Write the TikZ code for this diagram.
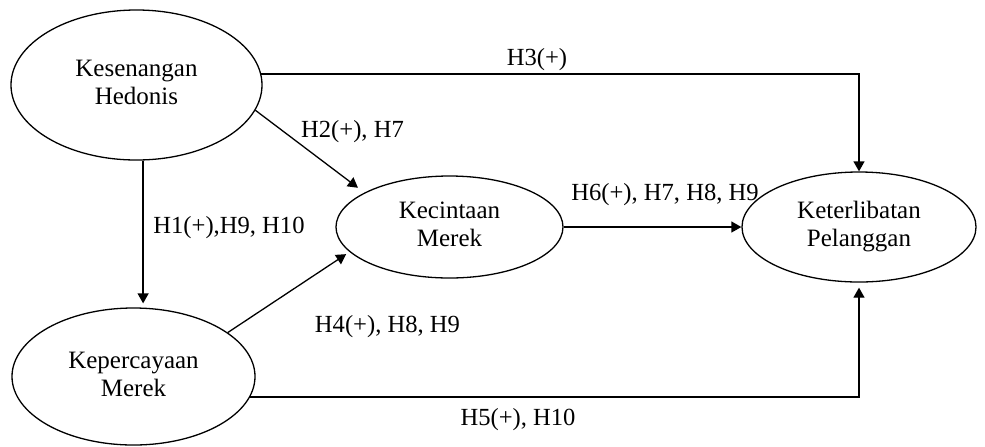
\documentclass[tikz,border=0pt]{standalone}
\usepackage{fontspec}
\setmainfont{Liberation Serif}
\usetikzlibrary{shapes.geometric,arrows.meta}
\newcommand{\twolines}[3]{\raisebox{#1}{\begin{tabular}{@{}c@{}}#2\\#3\end{tabular}}}
\begin{document}
\begin{tikzpicture}[x=0.5pt,y=-0.5pt,
  construct/.style={draw, ellipse, line width=0.65pt, inner sep=0pt,
    font=\fontsize{12.5}{14}\selectfont},
  link/.style={draw, line width=0.65pt, -{Triangle[length=5pt,width=5.5pt]}},
  hyp/.style={font=\fontsize{12.3}{14}\selectfont, inner sep=0pt}]
\useasboundingbox (0,0) rectangle (985,446);

% constructs
\node[construct, minimum width=125.5pt, minimum height=75pt]   (KH) at (136.5,85)   {\twolines{3pt}{Kesenangan}{Hedonis}};
\node[construct, minimum width=121.5pt, minimum height=68.5pt] (KM) at (133.5,376.5) {\twolines{2pt}{Kepercayaan}{Merek}};
\node[construct, minimum width=113.5pt, minimum height=51pt]   (CM) at (449.5,227)  {\twolines{0pt}{Kecintaan}{Merek}};
\node[construct, minimum width=117pt, minimum height=55pt]     (KP) at (859,227)    {\twolines{0pt}{Keterlibatan}{Pelanggan}};

% paths
\draw[link] (KH.5.5) -| (KP.north);
\draw[link, shorten >=2pt] (KH.-85) -- (KH.-85 |- KM.north);
\draw[link, shorten >=4pt] (KH.-12.7) -- (CM.158);
\draw[link, shorten >=2pt] (KM.25.9) -- (CM.194);
\draw[link] (CM.east) -- (KP.west);
\draw[link, shorten >=2.5pt] (KM.-10.5) -| (KP.south);

% hypothesis labels
\node[hyp] (h3) at (537,60)    {H3(+)};
\node[hyp] (h2) at (352.5,132) {H2(+), H7};
\node[hyp] (h1) at (229,228)   {H1(+),H9, H10};
\node[hyp] (h6) at (665,195)   {H6(+), H7, H8, H9};
\node[hyp] (h4) at (387.5,327) {H4(+), H8, H9};
\node[hyp] (h5) at (518,420)   {H5(+), H10};
\end{tikzpicture}
\end{document}
